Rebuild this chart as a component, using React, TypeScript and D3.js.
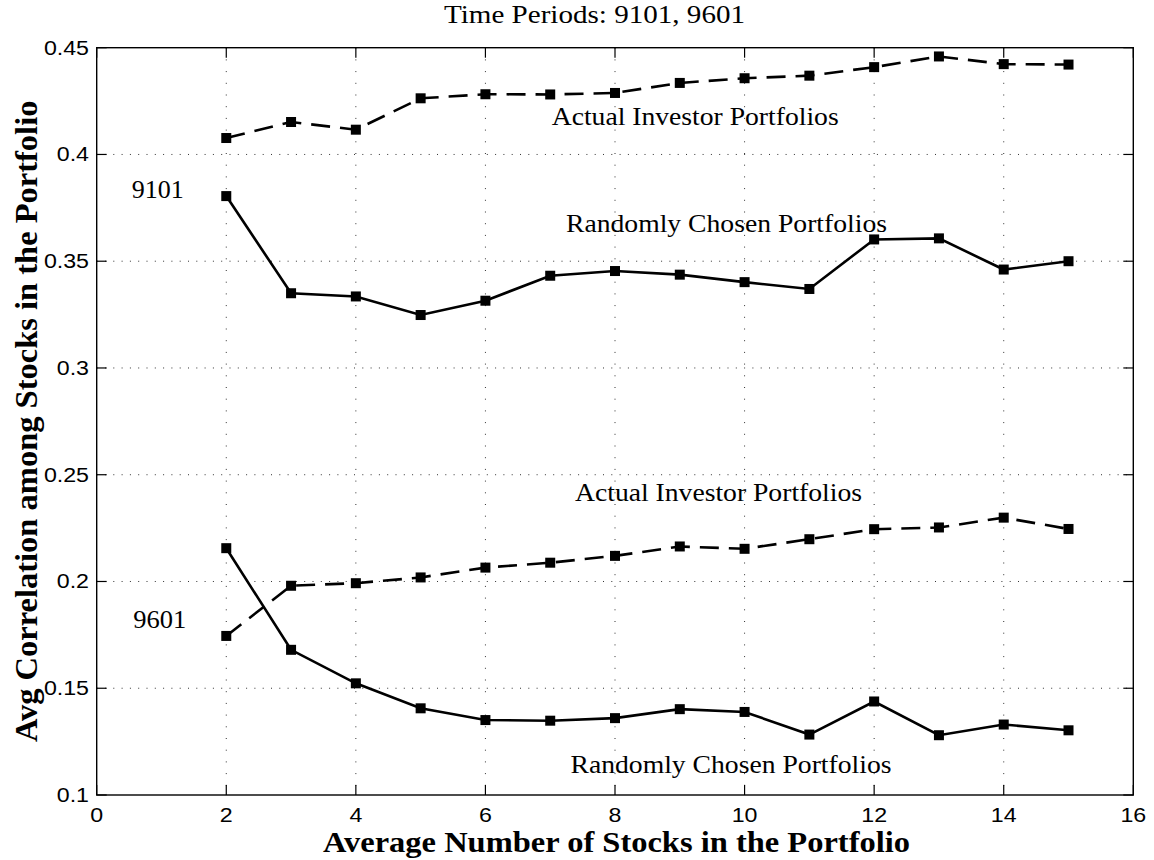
import React from "react";
import * as d3 from "d3";

const xValues = [2, 3, 4, 5, 6, 7, 8, 9, 10, 11, 12, 13, 14, 15];
const actual9101 = [0.4077, 0.4152, 0.4116, 0.4263, 0.4282, 0.4281, 0.4288, 0.4335, 0.4357, 0.4369, 0.4409, 0.4459, 0.4423, 0.4421];
const random9101 = [0.3805, 0.335, 0.3335, 0.3248, 0.3315, 0.3432, 0.3454, 0.3437, 0.3402, 0.337, 0.3602, 0.3607, 0.3461, 0.35];
const actual9601 = [0.1745, 0.198, 0.1992, 0.2019, 0.2065, 0.2088, 0.212, 0.2164, 0.2153, 0.2198, 0.2245, 0.2253, 0.2299, 0.2246];
const random9601 = [0.2156, 0.168, 0.1523, 0.1406, 0.1351, 0.1348, 0.136, 0.1402, 0.1389, 0.1283, 0.1438, 0.128, 0.133, 0.1303];

const xTicks = [0, 2, 4, 6, 8, 10, 12, 14, 16];
const yTicks = [0.1, 0.15, 0.2, 0.25, 0.3, 0.35, 0.4, 0.45];
const yTickLabels = ["0.1", "0.15", "0.2", "0.25", "0.3", "0.35", "0.4", "0.45"];

const W = 1154;
const H = 860;
const L = 96.7, R = 1133.3, T = 47.7, B = 795;

const serif = "'Liberation Serif', 'Times New Roman', serif";
const sans = "'Liberation Sans', Arial, sans-serif";

export default function App() {
  const x = d3.scaleLinear().domain([0, 16]).range([L, R]);
  const y = d3.scaleLinear().domain([0.1, 0.45]).range([B, T]);
  const line = d3
    .line<[number, number]>()
    .x((d) => x(d[0]))
    .y((d) => y(d[1]));

  const series = [
    { vals: actual9101, dashed: true },
    { vals: random9101, dashed: false },
    { vals: actual9601, dashed: true },
    { vals: random9601, dashed: false },
  ];

  const tickLen = 10;
  const SX = 1.16;

  return (
    <svg width={W} height={H} style={{ position: "absolute", left: 0, top: 0, background: "#fff" }}>
      {/* grid */}
      {xTicks.filter((t) => t > 0 && t < 16).map((t) => (
        <line key={"gx" + t} x1={x(t)} x2={x(t)} y1={T} y2={B} stroke="#333" strokeWidth={1} strokeDasharray="1,10.7" />
      ))}
      {yTicks.filter((t) => t > 0.1 && t < 0.45).map((t) => (
        <line key={"gy" + t} x1={L} x2={R} y1={y(t)} y2={y(t)} stroke="#333" strokeWidth={1} strokeDasharray="1,7.3" />
      ))}
      {/* ticks */}
      {xTicks.map((t) => (
        <g key={"tx" + t}>
          <line x1={x(t)} x2={x(t)} y1={B} y2={B - tickLen} stroke="#000" strokeWidth={1.2} />
          <line x1={x(t)} x2={x(t)} y1={T} y2={T + tickLen} stroke="#000" strokeWidth={1.2} />
          <text
            transform={`translate(${x(t)},821.5) scale(${SX},1)`}
            textAnchor="middle"
            fontFamily={sans}
            fontSize={20}
          >
            {t}
          </text>
        </g>
      ))}
      {yTicks.map((t, i) => (
        <g key={"ty" + t}>
          <line x1={L} x2={L + tickLen} y1={y(t)} y2={y(t)} stroke="#000" strokeWidth={1.2} />
          <line x1={R} x2={R - tickLen} y1={y(t)} y2={y(t)} stroke="#000" strokeWidth={1.2} />
          <text
            transform={`translate(89,${y(t) + 7}) scale(${SX},1)`}
            textAnchor="end"
            fontFamily={sans}
            fontSize={20}
          >
            {yTickLabels[i]}
          </text>
        </g>
      ))}
      {/* frame */}
      <rect x={L} y={T} width={R - L} height={B - T} fill="none" stroke="#000" strokeWidth={1.4} />
      {/* series */}
      {series.map((s, si) => {
        const pts = xValues.map((xv, i) => [xv, s.vals[i]] as [number, number]);
        return (
          <g key={"s" + si}>
            <path
              d={line(pts) || ""}
              fill="none"
              stroke="#000"
              strokeWidth={2.6}
              strokeDasharray={s.dashed ? "19,10" : undefined}
            />
            {pts.map((p, i) => (
              <rect key={i} x={x(p[0]) - 5} y={y(p[1]) - 5} width={10} height={10} fill="#000" />
            ))}
          </g>
        );
      })}
      {/* annotations */}
      <text x={551.7} y={125} fontFamily={serif} fontSize={25.5} textLength={287} lengthAdjust="spacingAndGlyphs">Actual Investor Portfolios</text>
      <text x={566} y={232} fontFamily={serif} fontSize={25.5} textLength={321} lengthAdjust="spacingAndGlyphs">Randomly Chosen Portfolios</text>
      <text x={575} y={501} fontFamily={serif} fontSize={25.5} textLength={287} lengthAdjust="spacingAndGlyphs">Actual Investor Portfolios</text>
      <text x={570.5} y={773} fontFamily={serif} fontSize={25.5} textLength={321} lengthAdjust="spacingAndGlyphs">Randomly Chosen Portfolios</text>
      <text x={131.7} y={198} fontFamily={serif} fontSize={25.5} textLength={52} lengthAdjust="spacingAndGlyphs">9101</text>
      <text x={133.3} y={628} fontFamily={serif} fontSize={25.5} textLength={53} lengthAdjust="spacingAndGlyphs">9601</text>
      {/* title */}
      <text x={444} y={23} fontFamily={serif} fontSize={24.5} textLength={301} lengthAdjust="spacingAndGlyphs">Time Periods: 9101, 9601</text>
      {/* axis titles */}
      <text x={323} y={852} fontFamily={serif} fontWeight="bold" fontSize={29} textLength={587} lengthAdjust="spacingAndGlyphs">Average Number of Stocks in the Portfolio</text>
      <text
        transform={`translate(37,${(T + B) / 2}) rotate(-90)`}
        textAnchor="middle"
        fontFamily={serif}
        fontWeight="bold"
        fontSize={32.5}
      >
        Avg Correlation among Stocks in the Portfolio
      </text>
    </svg>
  );
}
